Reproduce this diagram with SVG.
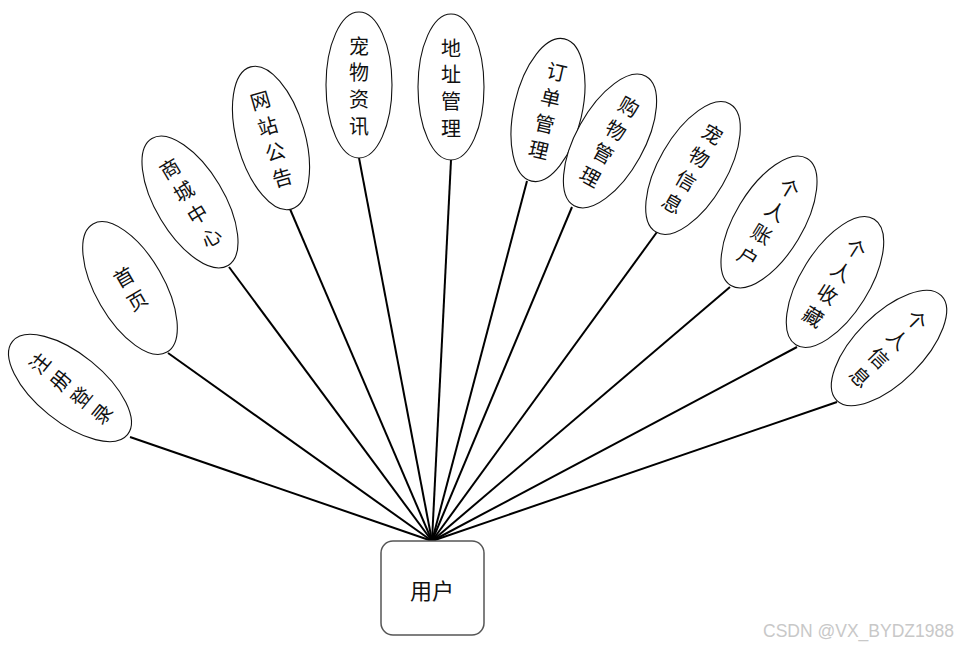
<svg xmlns="http://www.w3.org/2000/svg" width="958" height="648" viewBox="0 0 958 648">
<style>
.e{fill:#fff;stroke:#111;stroke-width:1.1}
.t{font-family:"Noto Sans CJK SC","Noto Sans CJK JP",sans-serif;font-size:20px;fill:#111;text-anchor:middle;dominant-baseline:central}
.c line{stroke:#000;stroke-width:2}
.wm{font-family:"Liberation Sans",Arial,sans-serif;font-size:17.5px;fill:#c8c8c8}
</style>
<rect width="958" height="648" fill="#fff"/>
<g class="c" id="connectors">
<line x1="432" y1="541" x2="130" y2="437"/>
<line x1="432" y1="541" x2="168" y2="353"/>
<line x1="432" y1="541" x2="229" y2="267"/>
<line x1="432" y1="541" x2="290" y2="209"/>
<line x1="432" y1="541" x2="359" y2="158"/>
<line x1="432" y1="541" x2="451" y2="160"/>
<line x1="432" y1="541" x2="527" y2="181"/>
<line x1="432" y1="541" x2="572" y2="207"/>
<line x1="432" y1="541" x2="657" y2="232"/>
<line x1="432" y1="541" x2="730" y2="287"/>
<line x1="432" y1="541" x2="797" y2="347"/>
<line x1="432" y1="541" x2="837" y2="402"/>
</g>
<g id="n1" transform="translate(70,388) rotate(-51)">
<ellipse class="e" rx="34" ry="74"/>
<text class="t" y="-40">注</text><text class="t" y="-13.3">册</text><text class="t" y="13.3">登</text><text class="t" y="40">录</text>
</g>
<g id="n2" transform="translate(130,288) rotate(-30)">
<ellipse class="e" rx="34" ry="74"/>
<text class="t" y="-13.3">首</text><text class="t" y="13.3">页</text>
</g>
<g id="n3" transform="translate(190,202) rotate(-31)">
<ellipse class="e" rx="34" ry="74"/>
<text class="t" y="-40">商</text><text class="t" y="-13.3">城</text><text class="t" y="13.3">中</text><text class="t" y="40">心</text>
</g>
<g id="n4" transform="translate(271,138) rotate(-16)">
<ellipse class="e" rx="34" ry="74"/>
<text class="t" y="-40">网</text><text class="t" y="-13.3">站</text><text class="t" y="13.3">公</text><text class="t" y="40">告</text>
</g>
<g id="n5" transform="translate(359,85)">
<ellipse class="e" rx="33" ry="73"/>
<text class="t" y="-40">宠</text><text class="t" y="-13.3">物</text><text class="t" y="13.3">资</text><text class="t" y="40">讯</text>
</g>
<g id="n6" transform="translate(451,87)">
<ellipse class="e" rx="33" ry="73"/>
<text class="t" y="-40">地</text><text class="t" y="-13.3">址</text><text class="t" y="13.3">管</text><text class="t" y="40">理</text>
</g>
<g id="n7" transform="translate(548,110) rotate(13)">
<ellipse class="e" rx="34" ry="73"/>
<text class="t" y="-40">订</text><text class="t" y="-13.3">单</text><text class="t" y="13.3">管</text><text class="t" y="40">理</text>
</g>
<g id="n8" transform="translate(610,141) rotate(29)">
<ellipse class="e" rx="34" ry="74"/>
<text class="t" y="-40">购</text><text class="t" y="-13.3">物</text><text class="t" y="13.3">管</text><text class="t" y="40">理</text>
</g>
<g id="n9" transform="translate(693,168) rotate(30)">
<ellipse class="e" rx="34" ry="74"/>
<text class="t" y="-40">宠</text><text class="t" y="-13.3">物</text><text class="t" y="13.3">信</text><text class="t" y="40">息</text>
</g>
<g id="n10" transform="translate(769,222) rotate(31)">
<ellipse class="e" rx="34" ry="74"/>
<text class="t" y="-40">个</text><text class="t" y="-13.3">人</text><text class="t" y="13.3">账</text><text class="t" y="40">户</text>
</g>
<g id="n11" transform="translate(835,282) rotate(32)">
<ellipse class="e" rx="34" ry="74"/>
<text class="t" y="-40">个</text><text class="t" y="-13.3">人</text><text class="t" y="13.3">收</text><text class="t" y="40">藏</text>
</g>
<g id="n12" transform="translate(889,348) rotate(45)">
<ellipse class="e" rx="34" ry="74"/>
<text class="t" y="-40">个</text><text class="t" y="-13.3">人</text><text class="t" y="13.3">信</text><text class="t" y="40">息</text>
</g>
<g id="user">
<rect x="381" y="541" width="103" height="94" rx="12" fill="#fff" stroke="#555" stroke-width="1.5"/>
<text class="t" x="432" y="589" style="font-size:22px">用户</text>
</g>
<text class="wm" x="763" y="637">CSDN @VX_BYDZ1988</text>
</svg>
